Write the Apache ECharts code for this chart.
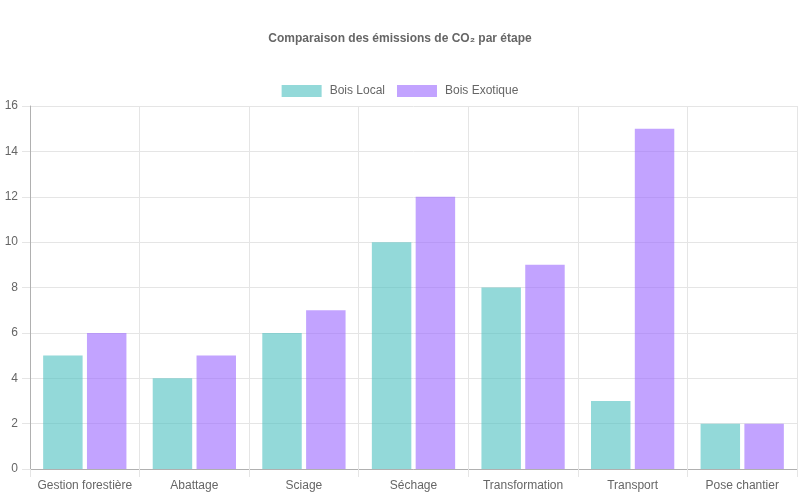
<!DOCTYPE html>
<html>
<head>
<meta charset="utf-8">
<script src="https://cdn.jsdelivr.net/npm/echarts@6.0.0/dist/echarts.min.js"></script>
<style>
  html, body { margin: 0; padding: 0; background: #fff; }
  #chart { width: 800px; height: 500px; }
</style>
</head>
<body>
<div id="chart"></div>
<script>
const etapes = ["Gestion forestière", "Abattage", "Sciage", "Séchage", "Transformation", "Transport", "Pose chantier"]
const boisLocal = [5, 4, 6, 10, 8, 3, 2]
const boisExotique = [6, 5, 7, 12, 9, 15, 2]
const yTicks = { min: 0, max: 16, interval: 2 }

const FONT = '"Liberation Sans", Arial, sans-serif'
const TEXT = "#666"
const GRID = "#e5e5e5"
const AXIS = "#b0b0b0"

const chart = echarts.init(document.getElementById("chart"))

const option = {
    animation: false,
    title: {
        text: "Comparaison des émissions de CO₂ par étape",
        left: "center",
        top: 28,
        textStyle: { fontFamily: FONT, fontSize: 12, fontWeight: "bold", color: TEXT }
    },
    legend: {
        top: 80,
        left: "center",
        itemWidth: 40,
        itemHeight: 12,
        itemGap: 12,
        icon: "rect",
        textStyle: { fontFamily: FONT, fontSize: 12, color: TEXT, padding: [0, 0, 0, 3] }
    },
    grid: { left: 30, right: 3, top: 106, bottom: 31, containLabel: false },
    xAxis: {
        type: "category",
        data: etapes,
        axisLine: { lineStyle: { color: AXIS } },
        axisTick: { show: true, length: 8, interval: 0, lineStyle: { color: GRID } },
        splitLine: { show: true, interval: 0, lineStyle: { color: GRID } },
        axisLabel: { fontFamily: FONT, fontSize: 12, color: TEXT, margin: 11, interval: 0 }
    },
    yAxis: {
        type: "value",
        min: yTicks.min,
        max: yTicks.max,
        interval: yTicks.interval,
        axisLine: { show: true, lineStyle: { color: AXIS } },
        axisTick: { show: true, length: 8, lineStyle: { color: GRID } },
        splitLine: { lineStyle: { color: GRID } },
        axisLabel: { fontFamily: FONT, fontSize: 12, color: TEXT, margin: 12 }
    },
    series: [
        {
            name: "Bois Local",
            type: "bar",
            data: boisLocal,
            barGap: "11%",
            barCategoryGap: "24%",
            itemStyle: { color: "rgba(75, 192, 192, 0.6)" }
        },
        {
            name: "Bois Exotique",
            type: "bar",
            data: boisExotique,
            itemStyle: { color: "rgba(153, 102, 255, 0.6)" }
        }
    ]
}

chart.setOption(option)
</script>
</body>
</html>
